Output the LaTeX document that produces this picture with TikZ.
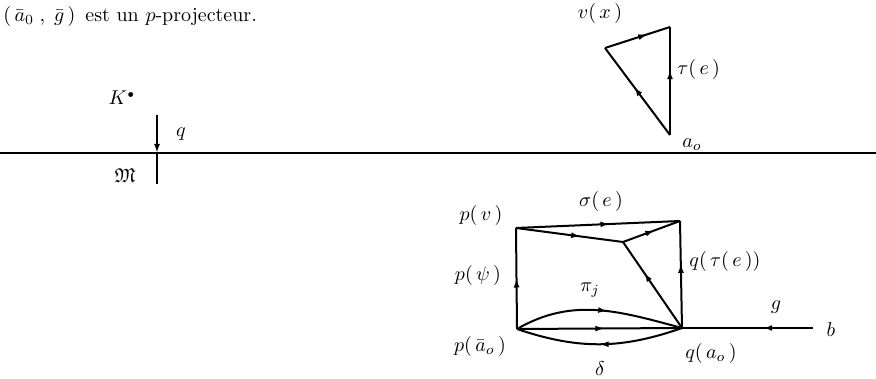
\documentclass[tikz,border=0pt]{standalone}
\usepackage{amssymb}
\usetikzlibrary{arrows.meta,decorations.markings}
\tikzset{
  edge/.style={line width=2pt},
  midarrow/.style={postaction={decorate},decoration={markings,
     mark=at position #1 with {\arrow{Latex[length=9pt,width=6pt]}}}},
  lbl/.style={inner sep=0pt, font=\normalsize, scale=2},
}
\begin{document}
\begin{tikzpicture}[x=1pt,y=1pt]
\useasboundingbox (0,0) rectangle (876,-379);
% header text
\node[lbl,anchor=west] (head) at (3,-17) {$(\,\bar a_0\;,\;\bar g\,)$\, est un $p$-projecteur.};
% top triangle
\coordinate (vx) at (605,-48);
\coordinate (tr) at (670,-27);
\coordinate (ao) at (670,-135);
\draw[edge,midarrow=0.65] (vx) -- (tr);
\draw[edge,midarrow=0.6] (ao) -- (tr);
\draw[edge,midarrow=0.55] (ao) -- (vx);
\node[lbl] (lvx) at (600,-14) {$v(\,x\,)$};
\node[lbl,anchor=west] (ltau) at (677,-70) {$\tau(\,e\,)$};
\node[lbl] (lao) at (692,-145) {$a_o$};
% horizontal line
\coordinate (hl) at (0,-153);
\coordinate (hr) at (876,-153);
\draw[line width=2pt] (hl) -- (hr);
\coordinate (qt) at (157,-115);
\coordinate (qm) at (157,-153);
\coordinate (qb) at (157,-184);
\draw[edge,-{Latex[length=9pt,width=6pt]}] (qt) -- (qm);
\draw[edge] (qm) -- (qb);
\node[lbl] (lK) at (122,-98) {$K^{\scriptscriptstyle\bullet}$};
\node[lbl] (lq) at (181,-134) {$q$};
\node[lbl] (lM) at (125,-176) {$\mathfrak{M}$};
% bottom diagram
\coordinate (pv) at (516,-228);
\coordinate (tr2) at (680,-221);
\coordinate (mid) at (623,-242);
\coordinate (pa) at (517,-329);
\coordinate (qa) at (682,-328);
\coordinate (b) at (813,-328);
\draw[edge,midarrow=0.57] (pv) -- (tr2);
\draw[edge,midarrow=0.6] (pv) -- (mid);
\draw[edge,midarrow=0.55] (mid) -- (tr2);
\draw[edge,midarrow=0.64] (qa) -- (mid);
\draw[edge,midarrow=0.5] (pa) -- (pv);
\draw[edge,midarrow=0.6] (qa) -- (tr2);
\draw[edge,midarrow=0.53] (pa) -- (qa);
\draw[edge,midarrow=0.55] (pa) to[out=30,in=165] (qa);
\draw[edge,midarrow=0.5] (qa) to[bend left=19] (pa);
\draw[edge,midarrow=0.38] (b) -- (qa);
\node[lbl] (lpv) at (481,-216) {$p(\,v\,)$};
\node[lbl] (lsig) at (601,-202) {$\sigma(\,e\,)$};
\node[lbl] (lpsi) at (478,-276) {$p(\,\psi\,)$};
\node[lbl] (lpi) at (590,-290) {$\pi_j$};
\node[lbl,anchor=west] (lqt) at (689,-262) {$q(\,\tau(\,e\,))$};
\node[lbl] (lpa) at (480,-347) {$p(\,\bar a_o\,)$};
\node[lbl] (lqa) at (711,-354) {$q(\,a_o\,)$};
\node[lbl] (ldel) at (600,-369) {$\delta$};
\node[lbl] (lg) at (776,-307) {$g$};
\node[lbl] (lb) at (831,-330) {$b$};
\end{tikzpicture}
\end{document}
